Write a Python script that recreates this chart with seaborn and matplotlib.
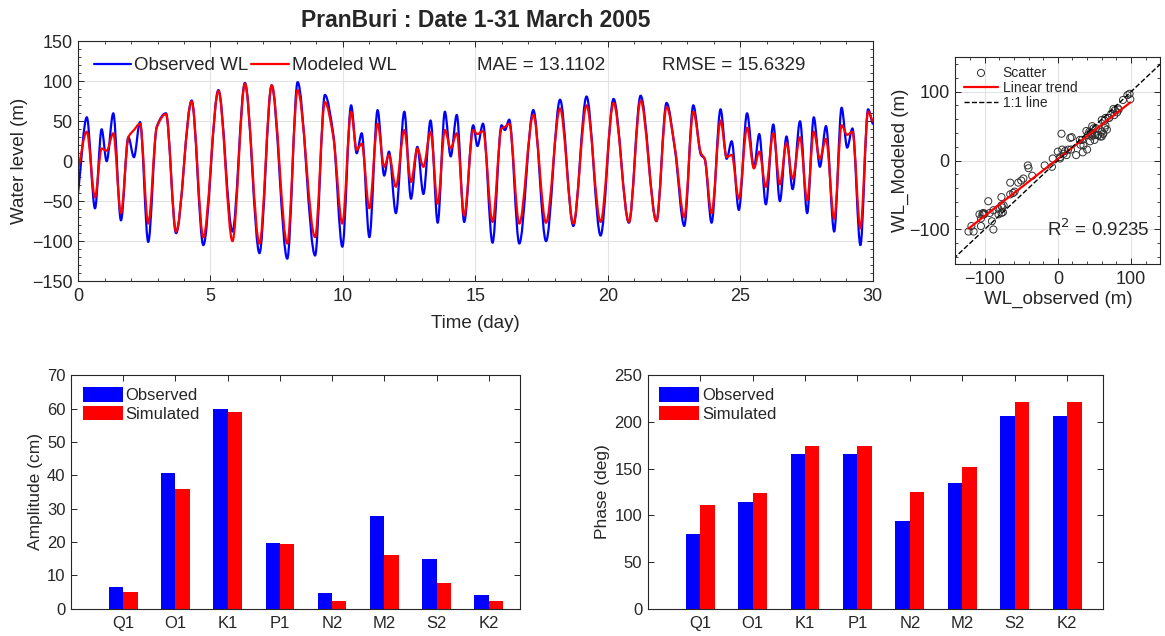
import numpy as np
import pandas as pd
import matplotlib
matplotlib.use("Agg")
import matplotlib.pyplot as plt
import seaborn as sns
from matplotlib.ticker import MultipleLocator
from matplotlib.path import Path
from matplotlib.patches import PathPatch
from matplotlib.lines import Line2D

# ---------------- data ----------------
t_days = [0.00, 0.33, 0.64, 0.89, 1.08, 1.33, 1.62, 1.90, 2.11, 2.34, 2.65, 2.97, 3.32, 3.70,
          4.29, 4.73, 5.30, 5.83, 6.30, 6.85, 7.31, 7.90, 8.29, 8.95, 9.32, 9.64, 9.98, 10.31,
          10.52, 10.71, 11.00, 11.31, 11.56, 11.74, 12.00, 12.32, 12.57, 12.81, 13.04, 13.31,
          13.58, 13.85, 14.07, 14.30, 14.58, 14.92, 15.08, 15.29, 15.65, 15.99, 16.12, 16.28,
          16.66, 17.19, 17.67, 18.20, 18.70, 19.20, 19.73, 20.22, 20.80, 21.24, 21.84, 22.22,
          22.54, 22.89, 23.23, 23.52, 23.66, 23.92, 24.26, 24.49, 24.68, 24.95, 25.26, 25.52,
          25.72, 25.97, 26.25, 26.50, 26.75, 26.98, 27.26, 27.53, 27.78, 28.01, 28.24, 28.55,
          28.83, 29.04, 29.24, 29.54, 29.83, 30.00]
observed_wl = [-40, 55, -59, 40, 0, 60, -74, 30, 5, 49, -101, 43, 60, -90, 76, -105, 89, -88,
               98, -115, 95, -122, 99, -118, 83, 33, -107, 70, 10, 35, -95, 64, -18, 12, -65,
               62, -47, 18, -41, 51, -77, 62, 6, 58, -76, 45, 19, 47, -102, 45, 39, 52, -103,
               64, -100, 77, -81, 81, -93, 78, -77, 82, -75, 73, 14, -81, 70, 8, 3, -77, 65, 3,
               25, -61, 60, -8, 34, -54, 46, -50, 31, -35, 50, -65, 55, -7, 44, -88, 67, 17,
               41, -105, 65, 47]
modeled_wl = [-11, 37, -45, 16, 13, 35, -65, 30, 39, 47, -78, 42, 59, -88, 75, -95, 88, -100,
              97, -103, 95, -103, 89, -95, 74, 30, -78, 62, 14, 22, -59, 47, -7, 8, -32, 39,
              -26, 16, -7, 37, -53, 39, 16, 35, -68, 39, 34, 38, -76, 41, 43, 47, -78, 58, -77,
              66, -78, 70, -76, 73, -76, 76, -75, 68, 16, -70, 62, 10, 3, -65, 51, 5, 8, -47,
              42, -9, 12, -32, 35, -29, 23, -22, 30, -49, 37, 3, 28, -72, 45, 33, 37, -84, 62, 50]

constituents = ["Q1", "O1", "K1", "P1", "N2", "M2", "S2", "K2"]
amp_observed = [6.4, 40.6, 60.0, 19.6, 4.6, 27.7, 15.0, 4.2]
amp_simulated = [5.1, 36.0, 59.0, 19.3, 2.2, 16.0, 7.6, 2.2]
phase_observed = [80.4, 114.7, 166.0, 166.0, 93.7, 134.3, 206.3, 206.3]
phase_simulated = [111.2, 123.8, 173.8, 173.8, 124.8, 151.7, 221.0, 221.0]

title_text = "PranBuri : Date 1-31 March 2005"
mae_text = "MAE = 13.1102"
rmse_text = "RMSE = 15.6329"
r2_text = "R$^2$ = 0.9235"

# ---------------- style ----------------
sns.set_theme(style="ticks")
plt.rcParams["font.family"] = ["Liberation Sans", "DejaVu Sans"]
dark = "#262626"
plt.rcParams.update({
    "xtick.direction": "in", "ytick.direction": "in",
    "xtick.top": True, "ytick.right": True,
    "axes.edgecolor": dark, "text.color": dark, "axes.labelcolor": dark,
    "xtick.color": dark, "ytick.color": dark, "axes.linewidth": 0.8,
    "xtick.major.size": 4, "ytick.major.size": 4,
    "xtick.minor.size": 2.2, "ytick.minor.size": 2.2,
    "xtick.major.width": 0.7, "ytick.major.width": 0.7,
    "xtick.minor.width": 0.6, "ytick.minor.width": 0.6,
    "xtick.major.pad": 5, "ytick.major.pad": 4,
})
grid_kw = dict(color="#e3e3e3", lw=0.8)


def smooth_line(ax, x, y, color, lw):
    """Draw a smooth (monotone cubic) line through the data points."""
    x = np.asarray(x, float)
    y = np.asarray(y, float)
    h = np.diff(x)
    d = np.diff(y) / h
    m = np.zeros_like(y)
    for i in range(1, len(y) - 1):
        if d[i - 1] * d[i] > 0:
            w1 = 2 * h[i] + h[i - 1]
            w2 = h[i] + 2 * h[i - 1]
            m[i] = (w1 + w2) / (w1 / d[i - 1] + w2 / d[i])
    m[0], m[-1] = d[0], d[-1]
    verts = [(x[0], y[0])]
    codes = [Path.MOVETO]
    for i in range(len(x) - 1):
        verts += [(x[i] + h[i] / 3, y[i] + m[i] * h[i] / 3),
                  (x[i + 1] - h[i] / 3, y[i + 1] - m[i + 1] * h[i] / 3),
                  (x[i + 1], y[i + 1])]
        codes += [Path.CURVE4] * 3
    ax.add_patch(PathPatch(Path(verts, codes), fc="none", ec=color, lw=lw,
                           capstyle="round", joinstyle="round"))


fig = plt.figure(figsize=(11.65, 6.36), dpi=100)
ax_ts = fig.add_axes([0.067, 0.558, 0.682, 0.377])
ax_sc = fig.add_axes([0.820, 0.585, 0.176, 0.325])
ax_amp = fig.add_axes([0.061, 0.043, 0.385, 0.367])
ax_ph = fig.add_axes([0.556, 0.043, 0.391, 0.367])

# ---------------- time series ----------------
ts_df = pd.DataFrame({"t": t_days, "obs": observed_wl, "mod": modeled_wl})
smooth_line(ax_ts, ts_df["t"], ts_df["obs"], "blue", 1.6)
smooth_line(ax_ts, ts_df["t"], ts_df["mod"], "red", 1.6)
ax_ts.set_xlim(0, 30)
ax_ts.set_ylim(-150, 150)
ax_ts.xaxis.set_major_locator(MultipleLocator(5))
ax_ts.xaxis.set_minor_locator(MultipleLocator(1))
ax_ts.yaxis.set_major_locator(MultipleLocator(50))
ax_ts.yaxis.set_minor_locator(MultipleLocator(10))
ax_ts.tick_params(which="both", labelsize=13, top=True, right=True)
ax_ts.grid(True, which="major", **grid_kw)
ax_ts.set_axisbelow(True)
ax_ts.set_xlabel("Time (day)", fontsize=13.5, labelpad=7)
ax_ts.set_ylabel("Water level (m)", fontsize=13.5, labelpad=3)
handles = [Line2D([], [], color="blue", lw=1.6), Line2D([], [], color="red", lw=1.6)]
ax_ts.legend(handles, ["Observed WL", "Modeled WL"], loc="upper left", ncol=2,
             frameon=False, fontsize=13.5, handlelength=2.0, handletextpad=0.15,
             columnspacing=0.15, borderaxespad=0.45, borderpad=0.4)
ax_ts.text(15.05, 120, mae_text, fontsize=13.5, va="center", ha="left")
ax_ts.text(22.05, 120, rmse_text, fontsize=13.5, va="center", ha="left")
ax_ts.set_title(title_text, fontsize=16.5, fontweight="bold", pad=10)

# ---------------- scatter ----------------
sns.scatterplot(data=ts_df, x="obs", y="mod", ax=ax_sc, marker="o", s=26,
                facecolor="none", edgecolor="#303030", linewidth=0.7, label="Scatter")
coef = np.polyfit(ts_df["obs"], ts_df["mod"], 1)
xs = np.array([ts_df["obs"].min(), ts_df["obs"].max()])
ax_sc.plot(xs, np.polyval(coef, xs), color="red", lw=1.6, label="Linear trend")
ax_sc.plot([-150, 150], [-150, 150], color="black", ls="--", lw=1.0, label="1:1 line")
ax_sc.set_xlim(-140, 140)
ax_sc.set_ylim(-150, 150)
ax_sc.set_xticks([-100, 0, 100])
ax_sc.set_yticks([-100, 0, 100])
ax_sc.xaxis.set_minor_locator(MultipleLocator(20))
ax_sc.yaxis.set_minor_locator(MultipleLocator(20))
ax_sc.tick_params(which="both", labelsize=13, top=True, right=True)
ax_sc.grid(True, which="major", **grid_kw)
ax_sc.set_axisbelow(True)
ax_sc.set_xlabel("WL_observed (m)", fontsize=13.5, labelpad=2)
ax_sc.set_ylabel("WL_Modeled (m)", fontsize=13.5, labelpad=0)
ax_sc.legend(loc="upper left", frameon=False, fontsize=10, handlelength=2.5,
             handletextpad=0.3, labelspacing=0.1, borderaxespad=0.3, borderpad=0.3)
ax_sc.text(-15, -100, r2_text, fontsize=13.5, va="center", ha="left")

# ---------------- bar charts ----------------
palette = {"Observed": "blue", "Simulated": "red"}
amp_df = pd.DataFrame({"Constituent": constituents * 2,
                       "value": amp_observed + amp_simulated,
                       "Type": ["Observed"] * 8 + ["Simulated"] * 8})
ph_df = pd.DataFrame({"Constituent": constituents * 2,
                      "value": phase_observed + phase_simulated,
                      "Type": ["Observed"] * 8 + ["Simulated"] * 8})

for ax, df, ylab, ymax, step, xr in [(ax_amp, amp_df, "Amplitude (cm)", 70, 10, 7.59),
                                      (ax_ph, ph_df, "Phase (deg)", 250, 50, 7.69)]:
    sns.barplot(data=df, x="Constituent", y="value", hue="Type", palette=palette,
                width=0.55, gap=0, saturation=1, errorbar=None, ax=ax, linewidth=0)
    ax.set_xlim(-1, xr)
    ax.set_ylim(0, ymax)
    ax.yaxis.set_major_locator(MultipleLocator(step))
    ax.tick_params(which="both", labelsize=12, top=True, right=True, length=4)
    ax.tick_params(axis="x", pad=5)
    ax.set_xlabel("")
    ax.set_ylabel(ylab, fontsize=12.5, labelpad=3)
    for s in ax.spines.values():
        s.set_visible(True)
    ax.legend(loc="upper left", frameon=False, fontsize=12, handlelength=2.4,
              handleheight=1.0, handletextpad=0.15, labelspacing=0.15,
              borderaxespad=0.4, borderpad=0.3, title=None)

fig.savefig("out.png", dpi=100)
